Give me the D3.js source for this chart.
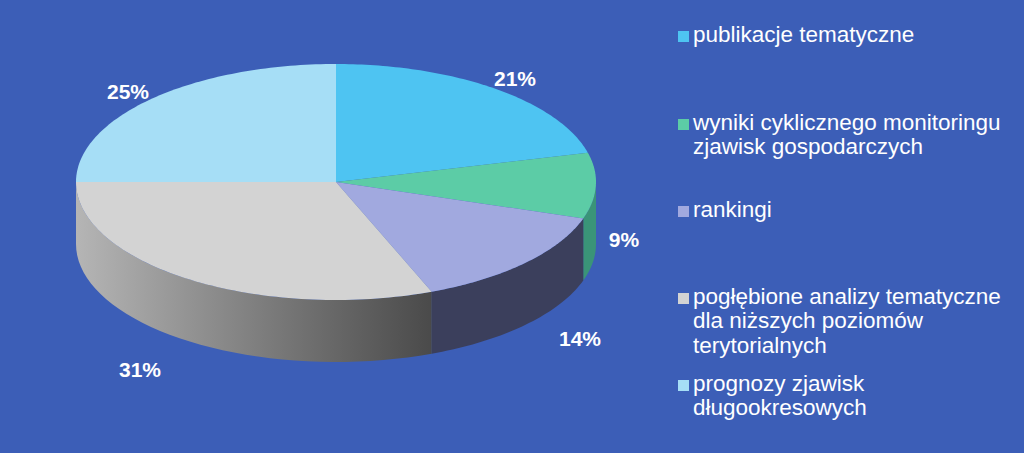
<!DOCTYPE html>
<html><head><meta charset="utf-8">
<script src="https://cdn.jsdelivr.net/npm/d3@7"></script>
<style>body{margin:0;background:#3c5eb7;}svg{display:block}</style>
</head><body>
<svg id="c" width="1024" height="453"></svg>
<script>
const categories = ["publikacje tematyczne","wyniki cyklicznego monitoringu zjawisk gospodarczych","rankingi","pogłębione analizy tematyczne dla niższych poziomów terytorialnych","prognozy zjawisk długookresowych"];
const legendLines = [["publikacje tematyczne"],["wyniki cyklicznego monitoringu","zjawisk gospodarczych"],["rankingi"],["pogłębione analizy tematyczne","dla niższych poziomów","terytorialnych"],["prognozy zjawisk","długookresowych"]];
const values = [21, 9, 14, 31, 25];
const labels = ["21%","9%","14%","31%","25%"];
const topColors = ["#4ec4f2","#5ccca6","#a1a9df","#d3d3d3","#a6def6"];
const sideColors = ["#2f8fb8","#3a9478","#3b3f5c","#8a8a8a","#6aa8c4"];

const svg = d3.select("#c");
svg.append("rect").attr("width",1024).attr("height",453).attr("fill","#3c5eb7");
const cx=336, cy=182, rx=260, ry=118, depth=62;
const total = d3.sum(values);
const ang = d3.scaleLinear().domain([0,total]).range([0,2*Math.PI]);
const pt = (t,dy=0)=>[cx+rx*Math.sin(t), cy-ry*Math.cos(t)+dy];
let acc=0;
const slices = values.map((v,i)=>{const a=ang(acc); acc+=v; return {i,a0:a,a1:ang(acc)};});

const defs=svg.append("defs");
const g=defs.append("linearGradient").attr("id","gs").attr("x1","0").attr("x2","1");
g.append("stop").attr("offset","0").attr("stop-color","#b5b5b5");
g.append("stop").attr("offset","1").attr("stop-color","#4a4a4a");

slices.forEach(s=>{
  const a=Math.max(s.a0,Math.PI/2), b=Math.min(s.a1,3*Math.PI/2);
  if(b<=a) return;
  const ts=d3.range(0,41).map(k=>a+(b-a)*k/40);
  const p=ts.map(t=>pt(t)).concat(ts.slice().reverse().map(t=>pt(t,depth)));
  svg.append("path").attr("d",d3.line()(p)+"Z")
    .attr("fill", s.i===3?"url(#gs)":sideColors[s.i]);
});
slices.forEach(s=>{
  const ts=d3.range(0,81).map(k=>s.a0+(s.a1-s.a0)*k/80);
  const p=[[cx,cy]].concat(ts.map(t=>pt(t)));
  svg.append("path").attr("d",d3.line()(p)+"Z").attr("fill",topColors[s.i]);
});

const labelPos=[[515,80],[624,241],[580,340],[140,371],[128,93]];
labels.forEach((l,i)=>svg.append("text").attr("x",labelPos[i][0]).attr("y",labelPos[i][1])
  .attr("text-anchor","middle").attr("dominant-baseline","middle")
  .attr("font-family","Liberation Sans, Arial").attr("font-weight","bold").attr("font-size",21)
  .attr("fill","#fff").text(l));

const legY=[36,124,211,298,385];
legendLines.forEach((lines,i)=>{
  svg.append("rect").attr("x",678).attr("y",legY[i]-5).attr("width",11).attr("height",11).attr("fill",topColors[i]);
  lines.forEach((t,j)=>svg.append("text").attr("x",693).attr("y",legY[i]+j*24.5)
    .attr("dominant-baseline","middle").attr("font-family","Liberation Sans, Arial")
    .attr("font-size",22.5).attr("fill","#fff").text(t));
});
</script>
</body></html>
